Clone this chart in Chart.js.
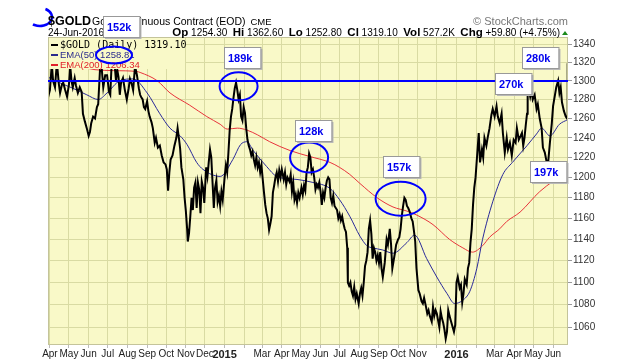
<!DOCTYPE html>
<html>
<head>
<meta charset="utf-8">
<script src="https://cdn.jsdelivr.net/npm/chart.js@4.4.1/dist/chart.umd.min.js"></script>
<style>
  body { margin: 0; background: #fff; }
  canvas { display: block; }
</style>
</head>
<body>
<canvas id="goldChart" width="630" height="361"></canvas>
<script>
'use strict';

// x axis is "days since 1-Apr-2014"
const monthDays = [0, 30, 61, 91, 122, 153, 183, 214, 244, 275, 306, 334, 365, 395, 426, 456, 487, 518, 548, 579, 609, 640, 671, 700, 731, 761, 792];
const monthLabels = ['Apr', 'May', 'Jun', 'Jul', 'Aug', 'Sep', 'Oct', 'Nov', 'Dec', '2015', '', 'Mar', 'Apr', 'May', 'Jun', 'Jul', 'Aug', 'Sep', 'Oct', 'Nov', '', '2016', '', 'Mar', 'Apr', 'May', 'Jun'];
const priceTicks = [1060, 1080, 1100, 1120, 1140, 1160, 1180, 1200, 1220, 1240, 1260, 1280, 1300, 1320, 1340];
const resistanceLevel = 1300;

// daily close, [day, price]
const gold2014 = [
    [-3,1282],[0,1290],[3,1318],[5,1300],[8,1293],[11,1320],[14,1297],[16,1287],[19,1296],[21,1298],[24,1290],[27,1283],
    [30,1296],[32,1316],[34,1300],[36,1293],[39,1303],[41,1295],[44,1287],[47,1293],[50,1288],[52,1265],[55,1257],[58,1250],
    [61,1242],[63,1246],[65,1255],[68,1262],[71,1260],[74,1272],[76,1275],[79,1314],[81,1318],[84,1293],[87,1306],[90,1306],
    [93,1288],[95,1285],[97,1316],[99,1335],[101,1325],[104,1300],[106,1312],[108,1304],[110,1285],[112,1298],[115,1303],
    [118,1290],[121,1280],[124,1292],[126,1302],[129,1296],[131,1290],[134,1316],[137,1306],[140,1292],[142,1285],[144,1282],
    [146,1280],[148,1272],[150,1270],[153,1278],[155,1268],[157,1262],[160,1256],[162,1250],[165,1235],[167,1240],[170,1230],
    [173,1232],[176,1222],[179,1215],[182,1213],[184,1208],[186,1187],[188,1205],[190,1218],[193,1222],[196,1232],[199,1240],
    [201,1250],[203,1240],[205,1229],[207,1210],[210,1198],[212,1180],[214,1167],[216,1150],[217,1138],[219,1146],[221,1162],
    [223,1180],[225,1168],[227,1190],[229,1195],[231,1170],[233,1195],[235,1188],[237,1165],[239,1196],[241,1190],[243,1175],
    [246,1210],[248,1201],[250,1215],[252,1228],[254,1220],[256,1195],[258,1170],[260,1190],[262,1197],[264,1176],[266,1182],
    [268,1172],[270,1186],[272,1178]
];
const gold2015 = [
    [275,1200],[277,1212],[279,1205],[281,1225],[283,1248],[285,1262],[287,1270],[289,1282],[291,1292],[293,1298],[295,1290],
    [297,1280],[299,1285],[301,1262],[303,1258],[305,1272],[307,1266],[309,1250],[311,1238],[313,1232],[315,1228],[317,1222],
    [319,1226],[321,1218],[323,1212],[325,1220],[327,1210],[329,1215],[331,1205],[333,1212],[335,1198],[337,1185],[339,1173],
    [341,1165],[343,1160],[345,1149],[347,1155],[349,1162],[351,1185],[353,1192],[355,1200],[357,1205],[359,1196],[361,1207],
    [363,1200],[365,1208],[368,1198],[370,1205],[372,1193],[374,1200],[377,1196],[379,1203],[381,1186],[383,1195],[385,1178],
    [387,1183],[389,1175],[391,1185],[393,1180],[396,1190],[398,1183],[400,1192],[402,1187],[404,1205],[406,1210],[408,1224],
    [410,1220],[412,1205],[414,1208],[416,1200],[418,1188],[420,1193],[422,1190],[424,1195],[426,1186],[428,1173],[430,1185],
    [432,1180],[434,1190],[436,1197],[438,1200],[440,1198],[442,1180],[444,1175],[446,1182],[448,1172],[450,1170],[452,1168],
    [454,1160],[456,1164],[458,1158],[460,1162],[462,1155],[464,1150],[466,1147],[468,1132],[469,1100],[471,1097],[473,1100],
    [475,1092],[477,1088],[479,1096],[481,1085],[483,1090],[486,1081],[488,1090],[490,1095],[492,1088],[494,1100],[496,1115],
    [498,1120],[500,1128],[502,1150],[504,1158],[506,1145],[508,1122],[510,1132],[512,1128],[514,1120],[516,1125],[518,1118],
    [520,1128],[522,1113],[524,1105],[527,1118],[530,1140],[532,1135],[535,1150],[537,1135],[539,1113],[541,1120],[543,1127],
    [545,1135],[548,1140],[550,1142],[552,1150],[554,1163],[556,1172],[558,1180],[560,1178],[562,1172],[564,1170],[566,1167],
    [569,1160],[571,1157],[573,1148],[575,1138],[577,1113],[580,1093],[582,1090],[585,1083],[587,1081],[589,1086],[592,1078],
    [594,1072],[596,1075],[598,1070],[601,1065],[603,1078],[605,1070],[607,1075],[609,1072],[611,1066],[613,1060],[615,1074],
    [617,1068],[619,1064],[621,1058],[623,1050],[625,1056],[627,1075],[629,1070],[631,1066],[633,1062],[636,1056],[638,1062]
];
const gold2016 = [
    [640,1100],[642,1105],[645,1095],[647,1098],[649,1082],[651,1090],[653,1103],[656,1098],[658,1113],[660,1118],[662,1137],
    [664,1150],[666,1173],[668,1190],[670,1200],[672,1218],[675,1245],[677,1215],[680,1228],[682,1220],[684,1240],[687,1232],
    [689,1240],[692,1250],[695,1264],[697,1270],[700,1262],[703,1273],[705,1262],[708,1255],[711,1265],[713,1245],[716,1225],
    [719,1240],[721,1228],[724,1235],[727,1222],[730,1238],[733,1235],[735,1250],[738,1238],[741,1242],[743,1245],[745,1232],
    [747,1240],[749,1253],[751,1265],[752,1297],[754,1290],[756,1283],[758,1290],[760,1280],[763,1285],[766,1270],[768,1275],
    [771,1260],[774,1250],[776,1230],[779,1225],[782,1215],[784,1213],[787,1235],[790,1255],[792,1273],[795,1285],[797,1293],
    [800,1300],[802,1287],[804,1293],[806,1277],[809,1268],[812,1262],[814,1260],[815,1319.1]
];

const ema50 = [
    [-3,1304],[15,1298],[36,1292],[58,1285],[76,1280],[90,1287],[110,1300],[131,1302],[153,1287],[173,1265],[189,1250],
    [205,1242],[216,1233],[231,1215],[241,1208],[268,1201],[288,1218],[300,1233],[310,1236],[320,1227],[341,1211],[357,1201],
    [389,1198],[414,1195],[441,1189],[456,1178],[472,1162],[488,1143],[499,1134],[508,1132],[524,1130],[540,1127],[562,1137],
    [574,1144],[593,1122],[609,1105],[625,1090],[637,1081],[650,1084],[661,1092],[672,1113],[681,1140],[697,1176],[713,1203],
    [728,1215],[751,1232],[766,1244],[774,1250],[787,1242],[802,1254],[815,1258.81]
];
const ema200 = [
    [-3,1318],[40,1316],[71,1312],[100,1311],[137,1310],[142,1309],[169,1300],[189,1287],[220,1274],[247,1262],[268,1254],
    [279,1249],[295,1250],[310,1248],[327,1243],[346,1236],[378,1227],[409,1221],[441,1215],[456,1210],[472,1203],[488,1194],
    [515,1180],[540,1171],[562,1167],[578,1163],[603,1154],[629,1140],[650,1132],[665,1128],[681,1134],[692,1142],[708,1150],
    [719,1157],[740,1166],[771,1186],[815,1206.34]
];

// volume call-outs: box text, box left/top in px
const callouts = [
    ['152k', 103, 16], ['189k', 224, 47], ['128k', 295, 120], ['157k', 383, 156],
    ['270k', 495, 73], ['280k', 522, 47], ['197k', 530, 161]
];
// circled peaks: [day, price, rx, ry]
const circles = [[297, 1294, 19, 14], [408, 1220, 19, 15], [552, 1179, 25, 17]];

const PLOT_BG = '#f9f9c8';
const GRID = '#d9dba3';
const FONT = '"Liberation Sans", Arial, sans-serif';

function toXY(arr) {
    return arr.map(p => ({x: p[0], y: p[1]}));
}

const bgPlugin = {
    id: 'bg',
    beforeDraw(chart) {
        const c = chart.ctx, a = chart.chartArea;
        c.save();
        c.fillStyle = '#fff';
        c.fillRect(0, 0, chart.width, chart.height);
        c.fillStyle = PLOT_BG;
        c.fillRect(a.left, a.top, a.right - a.left, a.bottom - a.top);
        c.restore();
    }
};

function drawBox(c, text, x, y) {
    c.font = 'bold 11px ' + FONT;
    const w = c.measureText(text).width + 12;
    const h = 21;
    c.fillStyle = '#b8b8b8';
    c.fillRect(x + 2, y + 2, w, h);
    c.fillStyle = '#fff';
    c.fillRect(x, y, w, h);
    c.strokeStyle = '#999';
    c.lineWidth = 1;
    c.strokeRect(x + 0.5, y + 0.5, w, h);
    c.fillStyle = '#0000ee';
    c.textBaseline = 'middle';
    c.textAlign = 'left';
    c.fillText(text, x + 4, y + h / 2 + 1);
}

const overlayPlugin = {
    id: 'overlay',
    afterDraw(chart) {
        const c = chart.ctx, a = chart.chartArea;
        const xs = chart.scales.x, ys = chart.scales.y;
        c.save();

        // plot border
        c.strokeStyle = '#c4c49a';
        c.lineWidth = 1;
        c.strokeRect(a.left + 0.5, a.top + 0.5, a.right - a.left - 1, a.bottom - a.top - 1);

        // resistance line
        const ry = Math.round(ys.getPixelForValue(resistanceLevel));
        c.strokeStyle = '#0000ff';
        c.lineWidth = 2;
        c.beginPath();
        c.moveTo(a.left, ry);
        c.lineTo(a.right, ry);
        c.stroke();

        // legend (opaque, hides the lines under it)
        c.fillStyle = PLOT_BG;
        c.fillRect(a.left + 1, a.top + 1, 136, 31);
        c.textBaseline = 'middle';
        c.textAlign = 'left';
        const rows = [
            ['#000', '$GOLD (Daily) 1319.10', '10px "DejaVu Sans Mono", monospace', 45],
            ['#2a2a8c', 'EMA(50) 1258.81', '9.5px ' + FONT, 55],
            ['#e0202a', 'EMA(200) 1206.34', '9.5px ' + FONT, 65]
        ];
        rows.forEach(r => {
            c.strokeStyle = r[0];
            c.lineWidth = 2;
            c.beginPath();
            c.moveTo(a.left + 3, r[3]);
            c.lineTo(a.left + 10, r[3]);
            c.stroke();
            c.fillStyle = r[0];
            c.font = r[2];
            c.fillText(r[1], a.left + 12, r[3]);
        });

        // blue circles
        c.strokeStyle = '#0000ff';
        c.lineWidth = 2;
        c.beginPath();
        c.ellipse(114, 55, 18, 8.5, 0, 0, Math.PI * 2);
        c.stroke();
        circles.forEach(e => {
            c.beginPath();
            c.ellipse(xs.getPixelForValue(e[0]), ys.getPixelForValue(e[1]), e[2], e[3], 0, 0, Math.PI * 2);
            c.stroke();
        });
        c.lineWidth = 2.5;
        c.beginPath();
        c.ellipse(40, 17, 12, 9, 0, -0.35 * Math.PI, 0.7 * Math.PI);
        c.stroke();

        // header
        c.textBaseline = 'alphabetic';
        c.fillStyle = '#000';
        c.font = 'bold 12.5px ' + FONT;
        c.fillText('$GOLD', 48, 25);
        c.font = '10.5px ' + FONT;
        c.fillText('Gold Continuous Contract (EOD)', 92, 25);
        const tw = c.measureText('Gold Continuous Contract (EOD)').width;
        c.font = '9.5px ' + FONT;
        c.fillText('CME', 92 + tw + 5, 25);
        c.font = '10px ' + FONT;
        c.fillText('24-Jun-2016', 48, 36);

        c.fillStyle = '#777';
        c.font = '11px ' + FONT;
        c.textAlign = 'right';
        c.fillText('\u00a9 StockCharts.com', 568, 25);
        c.textAlign = 'left';

        const parts = [
            ['Op', 1], [' 1254.30  ', 0], ['Hi', 1], [' 1362.60  ', 0], ['Lo', 1], [' 1252.80  ', 0],
            ['Cl', 1], [' 1319.10  ', 0], ['Vol', 1], [' 527.2K  ', 0], ['Chg', 1], [' +59.80 (+4.75%)', 0]
        ];
        const fontFor = b => b ? 'bold 11.5px ' + FONT : '10px ' + FONT;
        let total = 0;
        parts.forEach(p => { c.font = fontFor(p[1]); total += c.measureText(p[0]).width; });
        let px = 560 - total;
        c.fillStyle = '#000';
        parts.forEach(p => {
            c.font = fontFor(p[1]);
            c.fillText(p[0], px, 36);
            px += c.measureText(p[0]).width;
        });
        c.fillStyle = '#1a8a1a';
        c.beginPath();
        c.moveTo(562, 35);
        c.lineTo(568, 35);
        c.lineTo(565, 31);
        c.closePath();
        c.fill();

        // volume boxes
        callouts.forEach(b => drawBox(c, b[0], b[1], b[2]));
        c.restore();
    }
};

const ctx = document.getElementById('goldChart').getContext('2d');
new Chart(ctx, {
    type: 'line',
    data: {
        datasets: [
            {
                label: '$GOLD',
                data: toXY(gold2014.concat(gold2015, gold2016)),
                borderColor: '#000',
                borderWidth: 2,
                pointRadius: 0,
                tension: 0
            },
            {
                label: 'EMA(50)',
                data: toXY(ema50),
                borderColor: '#2a2a9a',
                borderWidth: 1,
                pointRadius: 0,
                cubicInterpolationMode: 'monotone'
            },
            {
                label: 'EMA(200)',
                data: toXY(ema200),
                borderColor: '#e8343c',
                borderWidth: 1,
                pointRadius: 0,
                cubicInterpolationMode: 'monotone'
            }
        ]
    },
    options: {
        responsive: false,
        animation: false,
        devicePixelRatio: 1,
        layout: { padding: { left: 48, top: 37, right: 0, bottom: 0 } },
        plugins: { legend: { display: false }, tooltip: { enabled: false } },
        scales: {
            x: {
                type: 'linear',
                min: -3,
                max: 815.5,
                afterBuildTicks: s => { s.ticks = monthDays.map(v => ({ value: v })); },
                afterFit: s => { s.height = 16; },
                grid: { color: GRID, tickLength: 3, tickColor: '#bbb' },
                border: { display: false },
                ticks: {
                    autoSkip: false,
                    maxRotation: 0,
                    padding: 0,
                    color: '#222',
                    callback: v => monthLabels[monthDays.indexOf(v)],
                    font: cx => {
                        const lab = cx.tick ? monthLabels[monthDays.indexOf(cx.tick.value)] : '';
                        return /^\d/.test(lab || '') ? { family: FONT, size: 11, weight: 'bold' } : { family: FONT, size: 10 };
                    }
                }
            },
            y: {
                type: 'logarithmic',
                position: 'right',
                min: 1044.5,
                max: 1348,
                afterBuildTicks: s => { s.ticks = priceTicks.map(v => ({ value: v })); },
                afterFit: s => { s.width = 62; },
                grid: { color: GRID, tickLength: 4, tickColor: '#999' },
                border: { display: false },
                ticks: {
                    padding: 1,
                    color: '#333',
                    font: { family: FONT, size: 10 },
                    callback: v => String(v)
                }
            }
        }
    },
    plugins: [bgPlugin, overlayPlugin]
});
</script>
</body>
</html>
